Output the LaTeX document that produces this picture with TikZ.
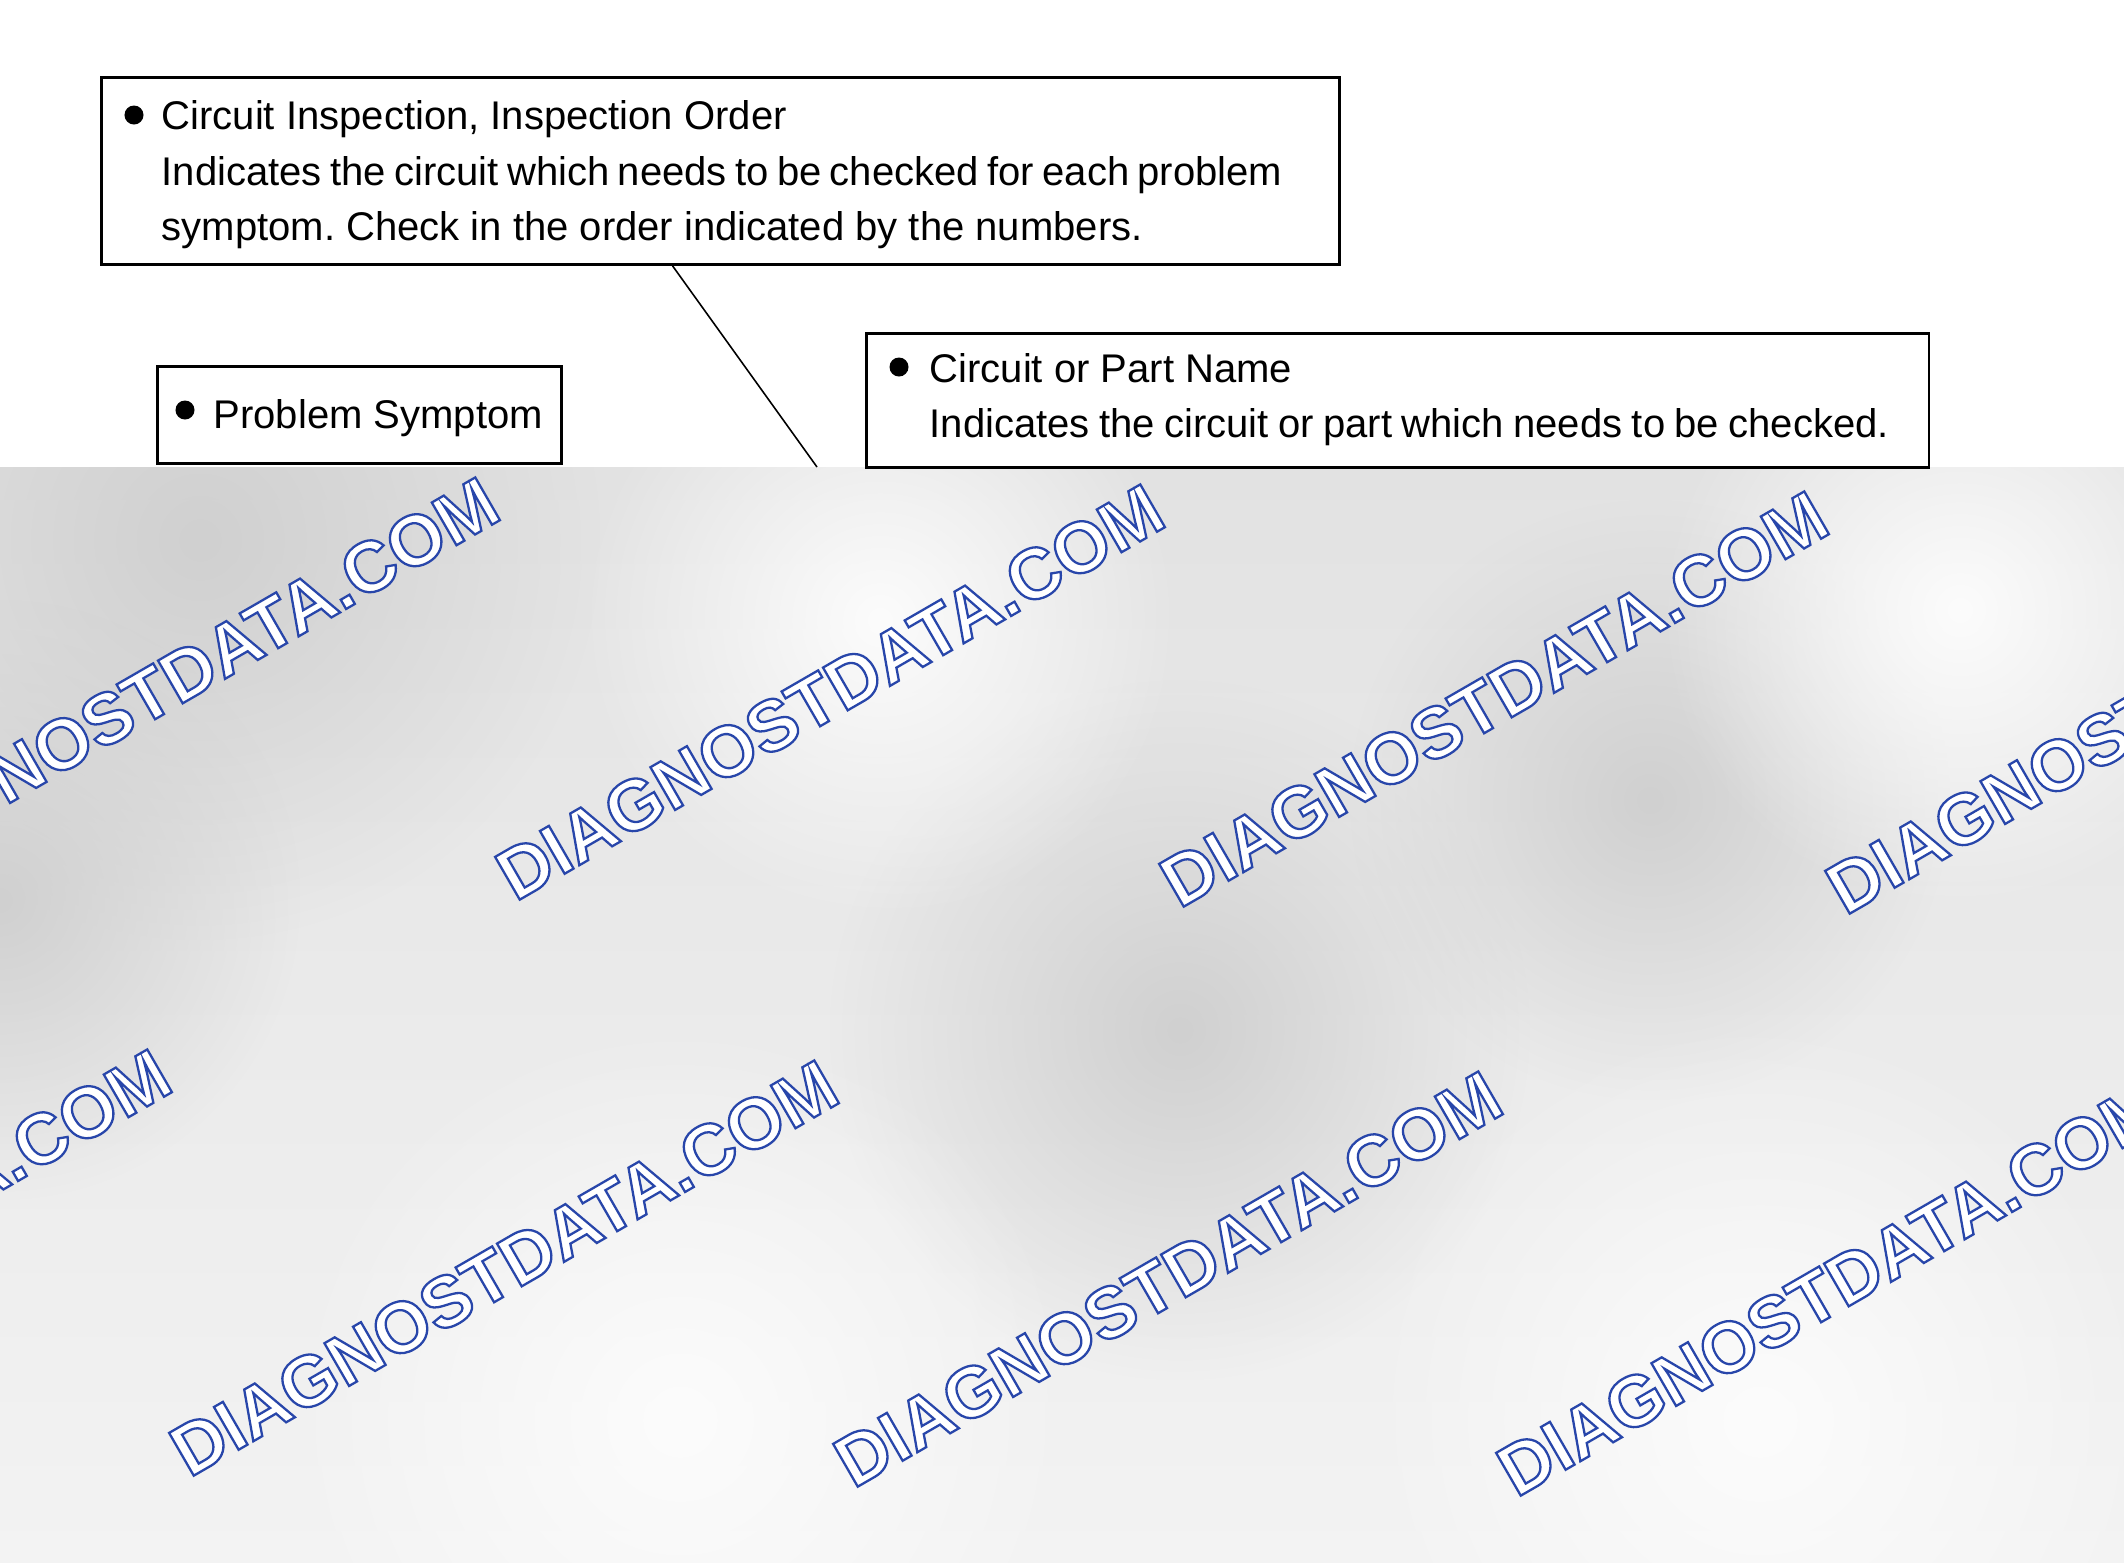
\documentclass[tikz,border=0pt]{standalone}
\usepackage{fontspec}
\setmainfont{Liberation Sans}
\usetikzlibrary{calc,fadings}
\frenchspacing
\definecolor{grisarriba}{RGB}{226,226,226}
\definecolor{grisabajo}{RGB}{243,243,243}
\definecolor{grisoscuro}{RGB}{208,208,208}
\definecolor{grisclaro}{RGB}{252,252,252}
\tikzfading[name=mancha,inner color=transparent!0,outer color=transparent!100]
% texto con contorno azul (relleno blanco)
\newcommand{\contorno}[1]{\special{pdf:literal direct 0.157 0.275 0.667 RG 2 Tr 0.65 w}#1\special{pdf:literal direct 0 Tr}}

\begin{document}
\begin{tikzpicture}[x=0.01cm,y=-0.01cm,
    caja/.style={draw,line width=0.8pt,anchor=north west,inner sep=0pt},
    texto/.style={anchor=base west,inner sep=0pt,font=\fontsize{11.38pt}{14pt}\selectfont},
    punto/.style={circle,fill,inner sep=0pt,minimum size=0.19cm},
    marca/.style={text=white,inner sep=0pt,rotate=30,font=\fontsize{20.4pt}{24pt}\selectfont\bfseries}]
    \useasboundingbox (0,0) rectangle (2124,1562);

    % Fondo gris
    \shade[top color=grisarriba,bottom color=grisabajo] (0,467) rectangle (2124,1562);
    \begin{scope}
        \clip (0,467) rectangle (2124,1562);
        \fill[grisoscuro,path fading=mancha] (200,540) circle (4cm);
        \fill[grisoscuro,path fading=mancha] (1180,1030) circle (3.5cm);
        \fill[grisoscuro,path fading=mancha] (1650,800) circle (3cm);
        \fill[grisoscuro,path fading=mancha] (0,900) circle (3cm);
        \fill[grisclaro,path fading=mancha] (880,620) circle (3cm);
        \fill[grisclaro,path fading=mancha] (1960,610) circle (3cm);
        \fill[grisclaro,path fading=mancha] (680,1420) circle (4cm);
        \fill[grisclaro,path fading=mancha] (1760,1420) circle (4cm);
    \end{scope}

    % Recuadros
    \node[caja,minimum width=12.37cm,minimum height=1.87cm] (cajaInspeccion) at (100,76) {};
    \node[caja,minimum width=4.04cm,minimum height=0.97cm] (cajaSintoma) at (156,365) {};
    \node[caja,minimum width=10.62cm,minimum height=1.34cm] (cajaNombre) at (865,332) {};

    % Puntos
    \node[punto] (puntoInspeccion) at (134,115) {};
    \node[punto] (puntoSintoma) at (185,410) {};
    \node[punto] (puntoNombre) at (899,367) {};

    % Textos
    \node[texto] (tituloInspeccion) at (161,129) {Circuit Inspection, Inspection Order};
    \node[texto] (lineaInspeccionA) at (161,185) {\spaceskip=0.21em\relax Indicates the circuit which needs to be checked for each problem};
    \node[texto] (lineaInspeccionB) at (161,240) {symptom. Check in the order indicated by the numbers.};
    \node[texto] (tituloSintoma) at (213,428) {Problem Symptom};
    \node[texto] (tituloNombre) at (929,382) {Circuit or Part Name};
    \node[texto] (lineaNombre) at (929,437) {\spaceskip=0.236em\relax Indicates the circuit or part which needs to be checked.};

    % Linea
    \coordinate (finLinea) at (817,467);
    \draw[line width=0.45pt] ($(cajaInspeccion.south west)!0.4616!(cajaInspeccion.south east)$) -- (finLinea);

    % Marcas de agua
    \foreach \x/\y [count=\i] in {165/685,830/692,1494/699,2160/706,-163/1257,504/1268,1168/1279,1831/1288}
        \node[marca] (marca\i) at (\x,\y) {\contorno{DIAGNOSTDATA.COM}};
\end{tikzpicture}
\end{document}
